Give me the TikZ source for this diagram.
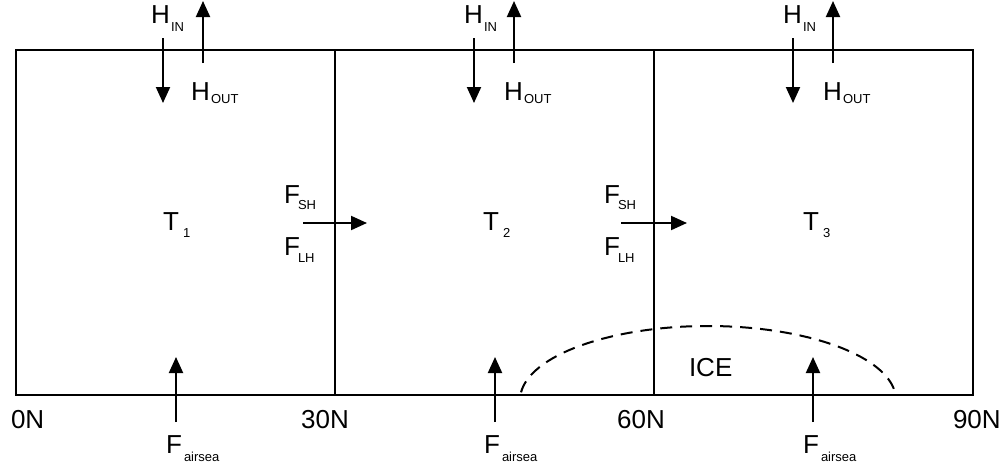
\documentclass[tikz,border=0pt]{standalone}
\usepackage{fontspec}
\setmainfont{Liberation Sans}
\usetikzlibrary{arrows.meta}
\begin{document}
\begin{tikzpicture}[x=1pt,y=-1pt,
  line width=2pt,
  flux/.style={-{Triangle[length=16pt,width=14pt]}, line width=2pt},
  lbl/.style={inner sep=0pt, anchor=base west, font=\fontsize{26}{30}\selectfont},
  lblc/.style={inner sep=0pt, anchor=base, font=\fontsize{26}{30}\selectfont},
  sub/.style={inner sep=0pt, anchor=base west, font=\fontsize{13}{15}\selectfont},
  icebound/.style={dash pattern=on 12pt off 8pt, line width=2pt}]
\useasboundingbox (0,0) rectangle (1003,469);
% boxes
\coordinate (tl) at (16,50);
\coordinate (br) at (973,395);
\draw (tl) rectangle (br);
\coordinate (d1t) at (335,50); \coordinate (d1b) at (335,395);
\coordinate (d2t) at (654,50); \coordinate (d2b) at (654,395);
\draw (d1t) -- (d1b);
\draw (d2t) -- (d2b);
% top fluxes
\foreach \dn/\up/\hx/\ho/\i in {163/203/150/190/1, 474/514/463/503/2, 793/833/782/822/3}{
  \coordinate (hin\i s) at (\dn,38); \coordinate (hin\i e) at (\dn,103);
  \coordinate (hout\i s) at (\up,63); \coordinate (hout\i e) at (\up,1);
  \draw[flux] (hin\i s) -- (hin\i e);
  \draw[flux] (hout\i s) -- (hout\i e);
  \node[lbl] (hinH\i) at (\hx,23) {H};
  \node[sub] (hinS\i) at (\hx+20,31) {IN};
  \node[lbl] (houtH\i) at (\ho,100) {H};
  \node[sub] (houtS\i) at (\ho+20,103) {OUT};
}
% temperatures
\foreach \tx/\i in {162/1, 482/2, 802/3}{
  \node[lbl] (T\i) at (\tx,230) {T};
  \node[sub] (Ts\i) at (\tx+20,237) {\i};
}
% meridional fluxes
\foreach \fs/\fe/\fx/\i in {303/367/283/1, 621/687/603/2}{
  \coordinate (fm\i s) at (\fs,223); \coordinate (fm\i e) at (\fe,223);
  \draw[flux] (fm\i s) -- (fm\i e);
  \node[lbl] (fsh\i) at (\fx,203) {F};
  \node[sub] (fshs\i) at (\fx+14,209) {SH};
  \node[lbl] (flh\i) at (\fx,255) {F};
  \node[sub] (flhs\i) at (\fx+14,262) {LH};
}
% air-sea fluxes
\foreach \ax/\fx/\i in {176/165/1, 495/483/2, 813/802/3}{
  \coordinate (fa\i s) at (\ax,422); \coordinate (fa\i e) at (\ax,357);
  \draw[flux] (fa\i s) -- (fa\i e);
  \node[lbl] (faF\i) at (\fx,453) {F};
  \node[sub] (faS\i) at (\fx+18,461) {airsea};
}
% latitude labels
\node[lbl] (lat0) at (10,428) {0N};
\node[lblc] (lat30) at (325,428) {30N};
\node[lblc] (lat60) at (641,428) {60N};
\node[lbl] (lat90) at (952,428) {90N};
% ice
\draw[icebound] (708,400) ++(186:188 and 74) arc[start angle=186, end angle=354, x radius=188, y radius=74];
\node[lbl] (ice) at (688,376) {ICE};
\end{tikzpicture}
\end{document}
